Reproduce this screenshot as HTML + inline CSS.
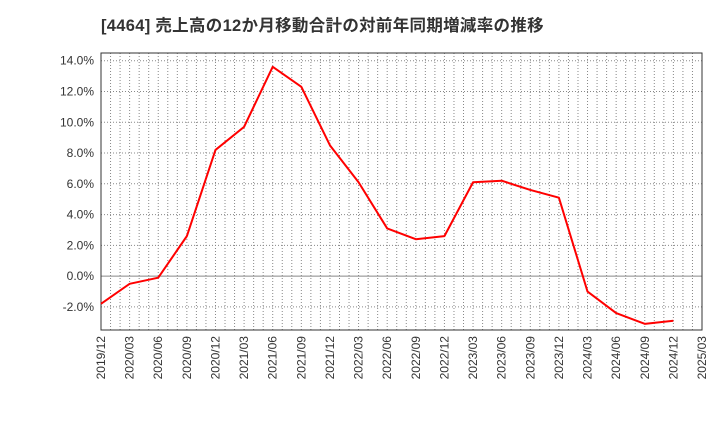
<!DOCTYPE html>
<html><head><meta charset="utf-8"><style>
body{margin:0;background:#fff;}
svg{display:block;font-family:"Liberation Sans","Noto Sans CJK JP",sans-serif;}
</style></head><body>
<svg id="chart" width="720" height="440">
<text x="101" y="31" font-size="16.5" letter-spacing="0.3" font-weight="bold" fill="#333">[4464]  売上高の12か月移動合計の対前年同期増減率の推移</text>
<g id="grid"></g><g id="axes"></g><g id="series"></g>
</svg>
<script>
const categories=["2019/12","2020/03","2020/06","2020/09","2020/12","2021/03","2021/06","2021/09","2021/12","2022/03","2022/06","2022/09","2022/12","2023/03","2023/06","2023/09","2023/12","2024/03","2024/06","2024/09","2024/12","2025/03"];
const values=[-1.8,-0.5,-0.1,2.6,8.2,9.7,13.6,12.3,8.5,6.1,3.1,2.4,2.6,6.1,6.2,5.6,5.1,-1.0,-2.4,-3.1,-2.9];
const yTicks=[-2,0,2,4,6,8,10,12,14];
const L=101,R=702,T=53,B=330,yMin=-3.5,yMax=14.5;
const NS="http://www.w3.org/2000/svg";
const xs=i=>L+(R-L)*i/(categories.length-1);
const ys=v=>B-(v-yMin)/(yMax-yMin)*(B-T);
const grid=document.getElementById('grid'),axes=document.getElementById('axes'),ser=document.getElementById('series');
function mk(p,tag,at){const e=document.createElementNS(NS,tag);for(const k in at)e.setAttribute(k,at[k]);p.appendChild(e);return e;}
const nMonths=(categories.length-1)*3;
for(let m=1;m<nMonths;m++){const x=L+(R-L)*m/nMonths;
const g=mk(grid,'line',{x1:x,x2:x,y1:T,y2:B,stroke:'#888','stroke-dasharray':'1,2','stroke-width':1});

}
yTicks.forEach(t=>{const y=ys(t);
const g=mk(grid,'line',{x1:L,x2:R,y1:y,y2:y,stroke:'#888','stroke-dasharray':t===0?'none':'1,2','stroke-width':1});


const tx=mk(axes,'text',{x:L-7,y:y+4,'text-anchor':'end','font-size':12,fill:'#333'});tx.textContent=t.toFixed(1)+'%';

});
categories.forEach((c,i)=>{const x=xs(i);
const tx=mk(axes,'text',{transform:`translate(${x+4},${B+6}) rotate(-90)`,'text-anchor':'end','font-size':12,fill:'#333'});tx.textContent=c;

});
const fr=mk(axes,'rect',{x:L,y:T,width:R-L,height:B-T,fill:'none',stroke:'#333','stroke-width':1});


const pl=mk(ser,'polyline',{points:values.map((v,i)=>xs(i)+','+ys(v)).join(' '),fill:'none',stroke:'#f00','stroke-width':2,'stroke-linejoin':'round'});


</script>
</body></html>
